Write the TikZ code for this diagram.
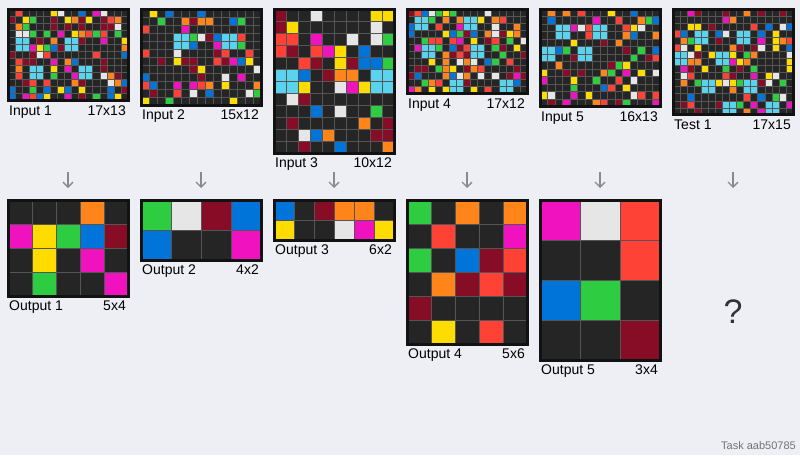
\documentclass[tikz,border=0pt]{standalone}
\usepackage{fontspec}
\setmainfont{Liberation Sans}
\usetikzlibrary{arrows.meta, positioning}

\definecolor{bgcol}{RGB}{238,238,245}
\definecolor{arc0}{RGB}{37,37,37}
\definecolor{arc1}{RGB}{0,116,217}
\definecolor{arc2}{RGB}{255,65,54}
\definecolor{arc3}{RGB}{46,204,64}
\definecolor{arc4}{RGB}{255,220,0}
\definecolor{arc5}{RGB}{230,230,230}
\definecolor{arc6}{RGB}{240,18,190}
\definecolor{arc7}{RGB}{255,133,27}
\definecolor{arc8}{RGB}{90,212,238}
\definecolor{arc9}{RGB}{135,12,37}
\definecolor{linecol}{RGB}{85,85,85}
\definecolor{arrowcol}{RGB}{138,138,138}

% cell data, one brace group per row
\def\cellsInA{{0,2,0,0,0,0,4,5,0,0,1,0,6,5,0,0,0},{9,0,4,3,0,0,9,0,4,7,9,4,0,9,2,7,0},{0,7,3,0,0,0,9,0,9,0,9,0,0,9,9,5,0},{0,5,5,3,0,3,0,6,0,4,7,2,3,2,0,3,0},{0,8,8,0,9,0,7,0,8,8,9,0,0,6,0,0,4},{0,8,8,6,4,3,1,9,8,8,0,0,0,0,0,0,7},{9,0,0,9,5,2,0,0,0,0,0,0,2,0,0,0,1},{0,2,9,9,0,0,6,0,7,1,0,0,0,9,0,0,0},{0,7,0,8,8,0,4,0,6,0,8,8,0,9,0,0,0},{0,2,0,8,8,0,3,0,0,6,8,8,0,5,7,9,0},{0,0,9,2,0,2,0,0,0,7,9,0,0,0,5,7,1},{1,0,0,3,0,1,0,4,1,0,4,0,0,0,1,0,9},{1,0,6,2,1,4,0,0,6,0,9,0,3,0,1,4,0}}
\def\cellsInB{{0,4,0,1,0,0,0,1,0,0,0,0,0,0,0},{0,0,3,0,0,7,9,7,7,0,0,1,3,0,0},{2,0,0,0,0,6,0,0,0,0,0,0,0,0,0},{0,0,0,0,8,8,3,5,9,1,8,8,2,0,0},{0,0,0,0,8,8,1,0,0,6,8,8,3,0,0},{2,0,0,0,5,0,0,0,0,9,2,0,0,2,0},{0,0,9,0,4,9,9,0,0,2,9,6,1,4,0},{0,0,0,0,0,0,9,4,0,0,0,0,0,0,5},{1,0,0,0,0,0,0,9,0,0,5,0,6,0,0},{2,1,0,0,6,0,6,2,7,0,4,0,0,0,7},{0,9,0,0,2,0,5,0,1,0,0,0,0,5,3},{4,0,0,3,0,0,0,0,0,0,0,4,0,0,0}}
\def\cellsInC{{9,0,0,5,0,0,0,0,4,4},{9,4,0,0,0,0,0,0,5,0},{2,2,0,6,0,0,5,0,5,3},{2,9,0,2,6,4,0,1,0,0},{0,0,2,9,0,4,9,1,1,3},{8,8,1,0,9,7,7,0,8,8},{8,8,4,0,0,5,6,4,8,8},{0,5,9,0,0,0,0,0,0,0},{0,0,0,1,0,5,0,0,3,0},{0,9,0,0,0,0,0,7,0,9},{0,0,5,1,7,0,0,0,9,9},{0,0,9,0,0,1,0,0,0,7}}
\def\cellsInD{{9,2,1,5,3,4,3,0,0,0,0,5,0,0,0,0,0},{0,8,8,3,0,7,0,7,8,8,4,0,7,2,0,0,0},{1,8,8,0,2,0,0,6,8,8,0,0,5,0,0,7,0},{1,0,0,0,0,4,1,3,9,1,0,7,5,9,4,7,0},{0,0,3,2,2,0,2,6,0,4,0,9,2,0,3,0,5},{0,6,8,8,3,0,1,9,2,8,8,0,3,9,0,4,0},{0,0,8,8,0,7,9,2,9,8,8,0,0,3,0,0,9},{0,0,0,4,0,7,0,5,7,5,0,1,3,0,2,0,0},{0,9,9,0,3,7,4,0,9,7,2,0,0,0,0,9,0},{9,1,0,0,0,7,1,5,7,0,5,0,5,0,9,6,9},{0,0,3,7,2,0,8,8,9,0,0,0,0,8,8,1,0},{6,7,0,4,0,4,8,8,0,4,0,2,0,8,8,0,0}}
\def\cellsInE{{0,7,0,7,0,2,0,0,0,4,0,0,1,0,0,0},{0,1,0,0,0,0,0,6,0,0,2,0,0,7,3,1},{0,0,8,8,6,5,2,8,8,0,0,2,4,5,0,0},{0,0,8,8,0,0,2,8,8,0,0,7,1,0,0,7},{0,0,0,0,4,0,0,0,9,0,7,0,0,0,0,0},{8,8,1,3,0,8,8,0,0,0,0,9,0,3,0,1},{8,8,0,0,9,8,8,0,0,0,0,0,3,0,9,2},{0,0,7,0,0,0,0,0,0,9,3,4,0,0,0,0},{4,0,0,9,0,9,0,0,7,3,0,6,0,4,0,5},{6,0,0,0,4,0,0,3,0,0,2,0,5,0,0,0},{0,0,0,0,3,0,0,0,1,2,0,4,0,0,0,0},{4,5,0,0,6,0,4,0,0,0,0,0,5,2,0,2},{0,9,0,6,0,0,0,7,2,0,9,3,0,0,0,6}}
\def\cellsTest{{0,0,6,9,0,0,0,9,0,0,7,0,9,0,0,9,0},{0,0,0,0,0,0,0,6,7,0,0,0,0,0,0,0,0},{0,0,4,4,0,9,0,0,0,0,0,2,0,1,0,5,1},{2,1,0,8,8,0,1,5,0,8,8,0,1,0,4,0,0},{0,7,3,8,8,0,9,0,0,8,8,0,6,0,4,7,2},{2,5,0,4,0,0,0,0,7,9,0,9,5,0,4,0,1},{8,8,5,9,0,4,8,8,4,0,3,7,0,0,0,0,5},{8,8,7,7,0,0,8,8,6,4,7,0,0,0,0,0,4},{0,6,9,0,4,0,0,3,0,9,0,3,0,0,0,0,4},{0,5,2,0,0,0,0,2,9,0,0,6,0,4,5,0,0},{0,7,0,3,8,8,4,5,4,3,8,8,9,5,0,3,0},{0,0,0,0,8,8,0,0,7,0,8,8,0,0,0,0,0},{0,0,1,0,0,0,0,0,0,0,2,0,1,0,3,5,0},{0,9,2,0,0,0,9,8,8,3,0,6,0,8,8,0,6},{0,0,0,9,0,0,0,8,8,0,7,0,6,8,8,0,0}}
\def\cellsOutA{{0,0,0,7,0},{6,4,3,1,9},{0,4,0,6,0},{0,3,0,0,6}}
\def\cellsOutB{{3,5,9,1},{1,0,0,6}}
\def\cellsOutC{{1,0,9,7,7,0},{4,0,0,5,6,4}}
\def\cellsOutD{{3,0,7,0,7},{0,2,0,0,6},{3,0,1,9,2},{0,7,9,2,9},{9,0,0,0,0},{0,4,0,2,0}}
\def\cellsOutE{{6,5,2},{0,0,2},{1,3,0},{0,0,9}}

% #1 name, #2 x, #3 y, #4 columns, #5 rows, #6 cells
\newcommand{\arcgrid}[6]{%
  \pgfmathsetmacro{\cellsz}{120/#4}
  \pgfmathsetmacro{\gridht}{#5*\cellsz}
  \foreach \row [count=\j from 0] in #6 {
    \foreach \v [count=\i from 0] in \row
      \filldraw[cell, fill=arc\v] ({#2+\i*\cellsz},{#3+\j*\cellsz}) rectangle ++(\cellsz,\cellsz);
  }
  \node[frame, minimum width=120pt, minimum height=\gridht pt, anchor=north west] (#1) at (#2,#3) {};
}

\begin{document}
\begin{tikzpicture}[
    x=1pt, y=-1pt,
    cell/.style={draw=linecol, line width=0.5pt},
    frame/.style={draw=black!93, line width=3pt, inner sep=0pt, outer sep=0pt},
    lbl/.style={font=\fontsize{14}{16}\selectfont, inner sep=0pt},
    arrow/.style={-{Straight Barb[length=5pt, width=10pt]}, line width=1.3pt, draw=arrowcol}
]
    \fill[bgcol] (0,0) rectangle (800,455);
    \useasboundingbox (0,0) rectangle (800,455);

    % inputs
    \arcgrid{in1}{8}{9}{17}{13}{\cellsInA}
    \arcgrid{in2}{141}{9}{15}{12}{\cellsInB}
    \arcgrid{in3}{274}{9}{10}{12}{\cellsInC}
    \arcgrid{in4}{407}{9}{17}{12}{\cellsInD}
    \arcgrid{in5}{540}{9}{16}{13}{\cellsInE}
    \arcgrid{test1}{673}{9}{17}{15}{\cellsTest}

    \node[lbl, anchor=base west] (in1t) at ([shift={(1,14.5)}]in1.south west) {Input 1};
    \node[lbl, anchor=base east] (in1s) at ([shift={(-2,14.5)}]in1.south east) {17x13};
    \node[lbl, anchor=base west] (in2t) at ([shift={(1,14.5)}]in2.south west) {Input 2};
    \node[lbl, anchor=base east] (in2s) at ([shift={(-2,14.5)}]in2.south east) {15x12};
    \node[lbl, anchor=base west] (in3t) at ([shift={(1,14.5)}]in3.south west) {Input 3};
    \node[lbl, anchor=base east] (in3s) at ([shift={(-2,14.5)}]in3.south east) {10x12};
    \node[lbl, anchor=base west] (in4t) at ([shift={(1,14.5)}]in4.south west) {Input 4};
    \node[lbl, anchor=base east] (in4s) at ([shift={(-2,14.5)}]in4.south east) {17x12};
    \node[lbl, anchor=base west] (in5t) at ([shift={(1,14.5)}]in5.south west) {Input 5};
    \node[lbl, anchor=base east] (in5s) at ([shift={(-2,14.5)}]in5.south east) {16x13};
    \node[lbl, anchor=base west] (test1t) at ([shift={(1,14.5)}]test1.south west) {Test 1};
    \node[lbl, anchor=base east] (test1s) at ([shift={(-2,14.5)}]test1.south east) {17x15};

    % arrows
    \foreach \k in {0,...,5} {
        \coordinate (ar\k a) at ({68+133*\k},172);
        \coordinate (ar\k b) at ({68+133*\k},188);
        \draw[arrow] (ar\k a) -- (ar\k b);
    }

    % outputs
    \arcgrid{out1}{8}{200}{5}{4}{\cellsOutA}
    \arcgrid{out2}{141}{200}{4}{2}{\cellsOutB}
    \arcgrid{out3}{274}{200}{6}{2}{\cellsOutC}
    \arcgrid{out4}{407}{200}{5}{6}{\cellsOutD}
    \arcgrid{out5}{540}{200}{3}{4}{\cellsOutE}

    \node[lbl, anchor=base west] (out1t) at ([shift={(1,14.5)}]out1.south west) {Output 1};
    \node[lbl, anchor=base east] (out1s) at ([shift={(-2,14.5)}]out1.south east) {5x4};
    \node[lbl, anchor=base west] (out2t) at ([shift={(1,14.5)}]out2.south west) {Output 2};
    \node[lbl, anchor=base east] (out2s) at ([shift={(-2,14.5)}]out2.south east) {4x2};
    \node[lbl, anchor=base west] (out3t) at ([shift={(1,14.5)}]out3.south west) {Output 3};
    \node[lbl, anchor=base east] (out3s) at ([shift={(-2,14.5)}]out3.south east) {6x2};
    \node[lbl, anchor=base west] (out4t) at ([shift={(1,14.5)}]out4.south west) {Output 4};
    \node[lbl, anchor=base east] (out4s) at ([shift={(-2,14.5)}]out4.south east) {5x6};
    \node[lbl, anchor=base west] (out5t) at ([shift={(1,14.5)}]out5.south west) {Output 5};
    \node[lbl, anchor=base east] (out5s) at ([shift={(-2,14.5)}]out5.south east) {3x4};

    \node[font=\fontsize{34}{40}\selectfont, text=black!80, inner sep=0pt] (query) at (733,312) {?};
    \node[font=\fontsize{11}{13}\selectfont, text=black!55, inner sep=0pt, anchor=base east] (taskid) at (796,449) {Task aab50785};
\end{tikzpicture}
\end{document}
